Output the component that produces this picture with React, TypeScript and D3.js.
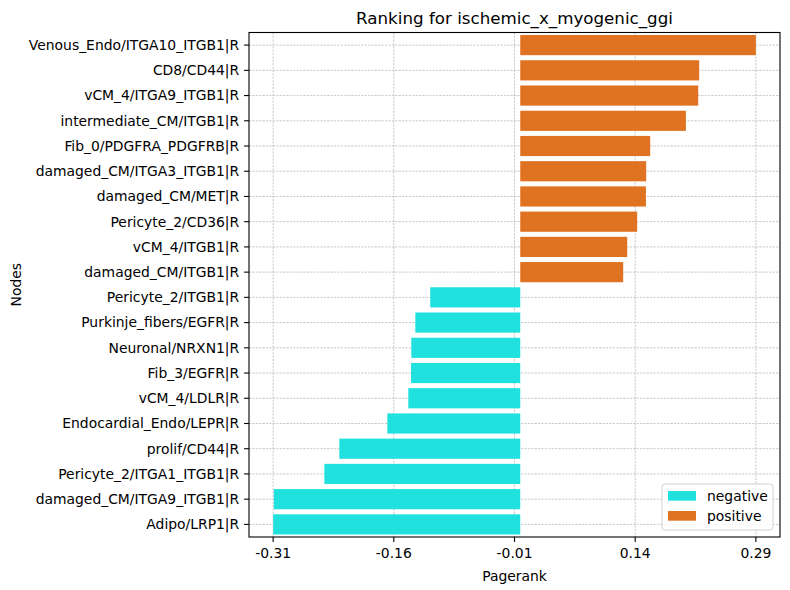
import * as d3 from "d3";

// Node labels, top to bottom as ranked
const nodes = [
  "Venous_Endo/ITGA10_ITGB1|R",
  "CD8/CD44|R",
  "vCM_4/ITGA9_ITGB1|R",
  "intermediate_CM/ITGB1|R",
  "Fib_0/PDGFRA_PDGFRB|R",
  "damaged_CM/ITGA3_ITGB1|R",
  "damaged_CM/MET|R",
  "Pericyte_2/CD36|R",
  "vCM_4/ITGB1|R",
  "damaged_CM/ITGB1|R",
  "Pericyte_2/ITGB1|R",
  "Purkinje_fibers/EGFR|R",
  "Neuronal/NRXN1|R",
  "Fib_3/EGFR|R",
  "vCM_4/LDLR|R",
  "Endocardial_Endo/LEPR|R",
  "prolif/CD44|R",
  "Pericyte_2/ITGA1_ITGB1|R",
  "damaged_CM/ITGA9_ITGB1|R",
  "Adipo/LRP1|R",
];

const pagerank = [
  0.293, 0.2225, 0.2213, 0.206, 0.1616, 0.1566, 0.1563, 0.1454, 0.133, 0.128,
  -0.1119, -0.1305, -0.1355, -0.1358, -0.1392, -0.1653, -0.225, -0.2436, -0.3065, -0.3073,
];

const groups = ["negative", "positive"];
const groupColors = ["#21e1df", "#df7322"];

const W = 790;
const H = 590;
const margin = { top: 32.5, right: 10, bottom: 53, left: 249 };
const FONT = "DejaVu Sans";

export default function App() {
  const innerW = W - margin.left - margin.right;
  const innerH = H - margin.top - margin.bottom;

  const lo = d3.min(pagerank) as number;
  const hi = d3.max(pagerank) as number;
  const pad = (hi - lo) * 0.05;

  const x = d3.scaleLinear().domain([lo - pad, hi + pad]).range([0, innerW]);
  const y = d3.scaleBand().domain(nodes).range([0, innerH]).paddingInner(0.2).paddingOuter(0.1);
  const yc = d3.scaleBand().domain(nodes).range([0, innerH]);

  // ticks run evenly from the smallest to the largest value
  const xticks = d3.range(5).map((i) => lo + ((hi - lo) * i) / 4);
  const color = d3.scaleOrdinal<string, string>().domain(groups).range(groupColors);

  const gridStyle = { stroke: "#b0b0b0", strokeWidth: 0.7, strokeDasharray: "2.2,1.2" };

  return (
    <svg width={W} height={H} style={{ position: "absolute", left: 0, top: 0, background: "#fff" }} fontFamily={FONT}>
      <g transform={`translate(${margin.left},${margin.top})`}>
        {xticks.map((t, i) => (
          <line key={"gx" + i} x1={x(t)} x2={x(t)} y1={0} y2={innerH} {...gridStyle} />
        ))}
        {nodes.map((n) => (
          <line key={"gy" + n} x1={0} x2={innerW} y1={(yc(n) as number) + yc.bandwidth() / 2} y2={(yc(n) as number) + yc.bandwidth() / 2} {...gridStyle} />
        ))}

        {nodes.map((n, i) => {
          const v = pagerank[i];
          return (
            <rect
              key={"b" + n}
              x={x(Math.min(0, v))}
              width={Math.abs(x(v) - x(0))}
              y={y(n)}
              height={y.bandwidth()}
              fill={color(v < 0 ? "negative" : "positive")}
            />
          );
        })}

        <rect x={0} y={0} width={innerW} height={innerH} fill="none" stroke="#000" strokeWidth={1.1} />

        {xticks.map((t, i) => (
          <g key={"tx" + i} transform={`translate(${x(t)},${innerH})`}>
            <line y1={0} y2={4.9} stroke="#000" strokeWidth={1.1} />
            <text y={21} textAnchor="middle" fontSize={13.9} fill="#000">
              {t.toFixed(2)}
            </text>
          </g>
        ))}
        {nodes.map((n) => (
          <g key={"ty" + n} transform={`translate(0,${(yc(n) as number) + yc.bandwidth() / 2})`}>
            <line x1={0} x2={-4.9} stroke="#000" strokeWidth={1.1} />
            <text x={-9.8} dy="0.35em" textAnchor="end" fontSize={13.9} fill="#000">
              {n}
            </text>
          </g>
        ))}

        <text x={innerW / 2} y={innerH + 44} textAnchor="middle" fontSize={13.9}>
          Pagerank
        </text>
        <text transform={`translate(${-228},${innerH / 2}) rotate(-90)`} textAnchor="middle" fontSize={13.9}>
          Nodes
        </text>
        <text x={innerW / 2} y={-9} textAnchor="middle" fontSize={16.7}>
          Ranking for ischemic_x_myogenic_ggi
        </text>

        {/* legend */}
        <g transform={`translate(${innerW - 118},${innerH - 53})`}>
          <rect x={0} y={0} width={111} height={46} rx={3} fill="#fff" fillOpacity={0.8} stroke="#d0d0d0" strokeWidth={1} />
          {groups.map((g, i) => (
            <g key={g} transform={`translate(6,${7 + i * 20})`}>
              <rect width={28} height={9.7} fill={color(g)} />
              <text x={39} y={9.5} fontSize={13.9}>
                {g}
              </text>
            </g>
          ))}
        </g>
      </g>
    </svg>
  );
}
